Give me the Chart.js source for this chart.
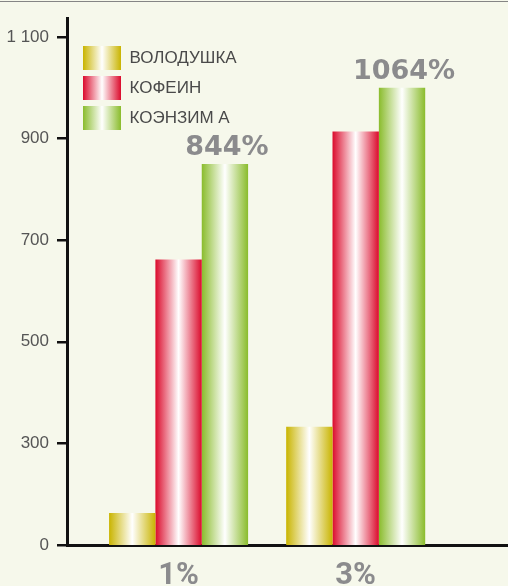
<!DOCTYPE html>
<html><head><meta charset="utf-8">
<script src="https://cdn.jsdelivr.net/npm/chart.js@4.4.1/dist/chart.umd.min.js"></script>
<style>
html,body{margin:0;padding:0;background:#f6f8eb;}
#wrap{position:relative;width:508px;height:586px;overflow:hidden;background:#f6f8eb;}
#topline{position:absolute;left:0;top:1px;width:508px;height:1px;background:#858585;}
canvas{position:absolute;left:0;top:0;}
</style></head><body>
<div id="wrap"><canvas id="c" width="508" height="586"></canvas><div id="topline"></div></div>
<script>
// ---- data ----
const categories = [1, 3];                       // concentration, %
const seriesNames = ['ВОЛОДУШКА', 'КОФЕИН', 'КОЭНЗИМ А'];
const volodushka = [163, 333];
const kofein = [662, 914];
const koenzim = [850, 1000];
const koenzimLabels = ['844%', '1064%'];
const yTickValues = [100, 300, 500, 700, 900, 1100]; // broken axis: the bottom tick is labelled 0
const yTickLabels = ['0', '300', '500', '700', '900', '1 100'];
const seriesColors = ['#c9b400', '#db0b2c', '#8abc2c'];

const LEG_X = 83, LEG_Y = 46;

function grad(ctx, x0, x1, color) {
  const g = ctx.createLinearGradient(x0, 0, x1, 0);
  g.addColorStop(0, color);
  g.addColorStop(0.5, '#ffffff');
  g.addColorStop(1, color);
  return g;
}

const decor = {
  id: 'decor',
  afterLayout(chart) {
    const lg = chart.legend;
    if (!lg) return;
    const pad = lg.options.labels.padding;
    lg.left = LEG_X - pad;
    lg.top = LEG_Y - pad;
  },
  afterUpdate(chart) {
    const lg = chart.legend;
    if (!lg) return;
    const bw = lg.options.labels.boxWidth;
    lg.legendItems.forEach(it => {
      it.fillStyle = grad(chart.ctx, LEG_X, LEG_X + bw, seriesColors[it.datasetIndex]);
      it.lineWidth = 0;
      it.strokeStyle = 'rgba(0,0,0,0)';
    });
  },
  beforeDatasetsDraw(chart) {
    chart.data.datasets.forEach((ds, i) => {
      chart.getDatasetMeta(i).data.forEach(el => {
        const {x, width} = el.getProps(['x', 'width'], true);
        el.options = Object.assign({}, el.options, {
          backgroundColor: grad(chart.ctx, x - width / 2, x + width / 2, seriesColors[i])
        });
      });
    });
  },
  afterDatasetsDraw(chart) {
    const ctx = chart.ctx;
    const meta = chart.getDatasetMeta(2);
    ctx.save();
    ctx.font = 'bold 27px "DejaVu Sans"';
    ctx.fillStyle = '#8b8b8d';
    ctx.textAlign = 'center';
    ctx.textBaseline = 'alphabetic';
    meta.data.forEach((el, i) => {
      const {x, y} = el.getProps(['x', 'y'], true);
      ctx.fillText(koenzimLabels[i], x + 2, y - 9);
    });
    ctx.restore();
  }
};

new Chart(document.getElementById('c'), {
  type: 'bar',
  data: {
    labels: categories,
    datasets: [
      {label: seriesNames[0], data: volodushka, backgroundColor: seriesColors[0], borderWidth: 0},
      {label: seriesNames[1], data: kofein, backgroundColor: seriesColors[1], borderWidth: 0},
      {label: seriesNames[2], data: koenzim, backgroundColor: seriesColors[2], borderWidth: 0}
    ]
  },
  options: {
    responsive: false,
    animation: false,
    events: [],
    categoryPercentage: 0.785,
    barPercentage: 1,
    layout: {padding: {top: 15, left: 0, right: 0, bottom: 0}},
    plugins: {
      tooltip: {enabled: false},
      legend: {
        position: 'chartArea',
        align: 'start',
        labels: {
          boxWidth: 38, boxHeight: 24, padding: 6,
          color: '#4a4a4a',
          font: {family: 'Liberation Sans', size: 17}
        }
      }
    },
    scales: {
      x: {
        type: 'linear',
        offset: false,
        min: -0.26, max: 4.72,
        afterBuildTicks: s => { s.ticks = categories.map(v => ({value: v})); },
        afterFit: s => { s.height = 41; },
        grid: {display: false, drawTicks: false, offset: false},
        border: {display: true, color: '#111', width: 3},
        ticks: {
          callback: v => v + '%',
          color: '#8b8b8d',
          font: {family: 'Roboto', weight: 'bold', size: 31},
          padding: 13, autoSkip: false, maxRotation: 0
        }
      },
      y: {
        min: 100, max: 1137,
        afterBuildTicks: s => { s.ticks = yTickValues.map(v => ({value: v})); },
        afterFit: s => { s.width = 67; },
        grid: {drawOnChartArea: false, drawTicks: true, tickLength: 10, color: '#111', lineWidth: 2.5},
        border: {display: true, color: '#111', width: 3},
        ticks: {
          callback: (v, i) => yTickLabels[i],
          color: '#555',
          font: {family: 'Liberation Sans', size: 17},
          padding: 8
        }
      }
    }
  },
  plugins: [decor]
});
</script>
</body></html>
